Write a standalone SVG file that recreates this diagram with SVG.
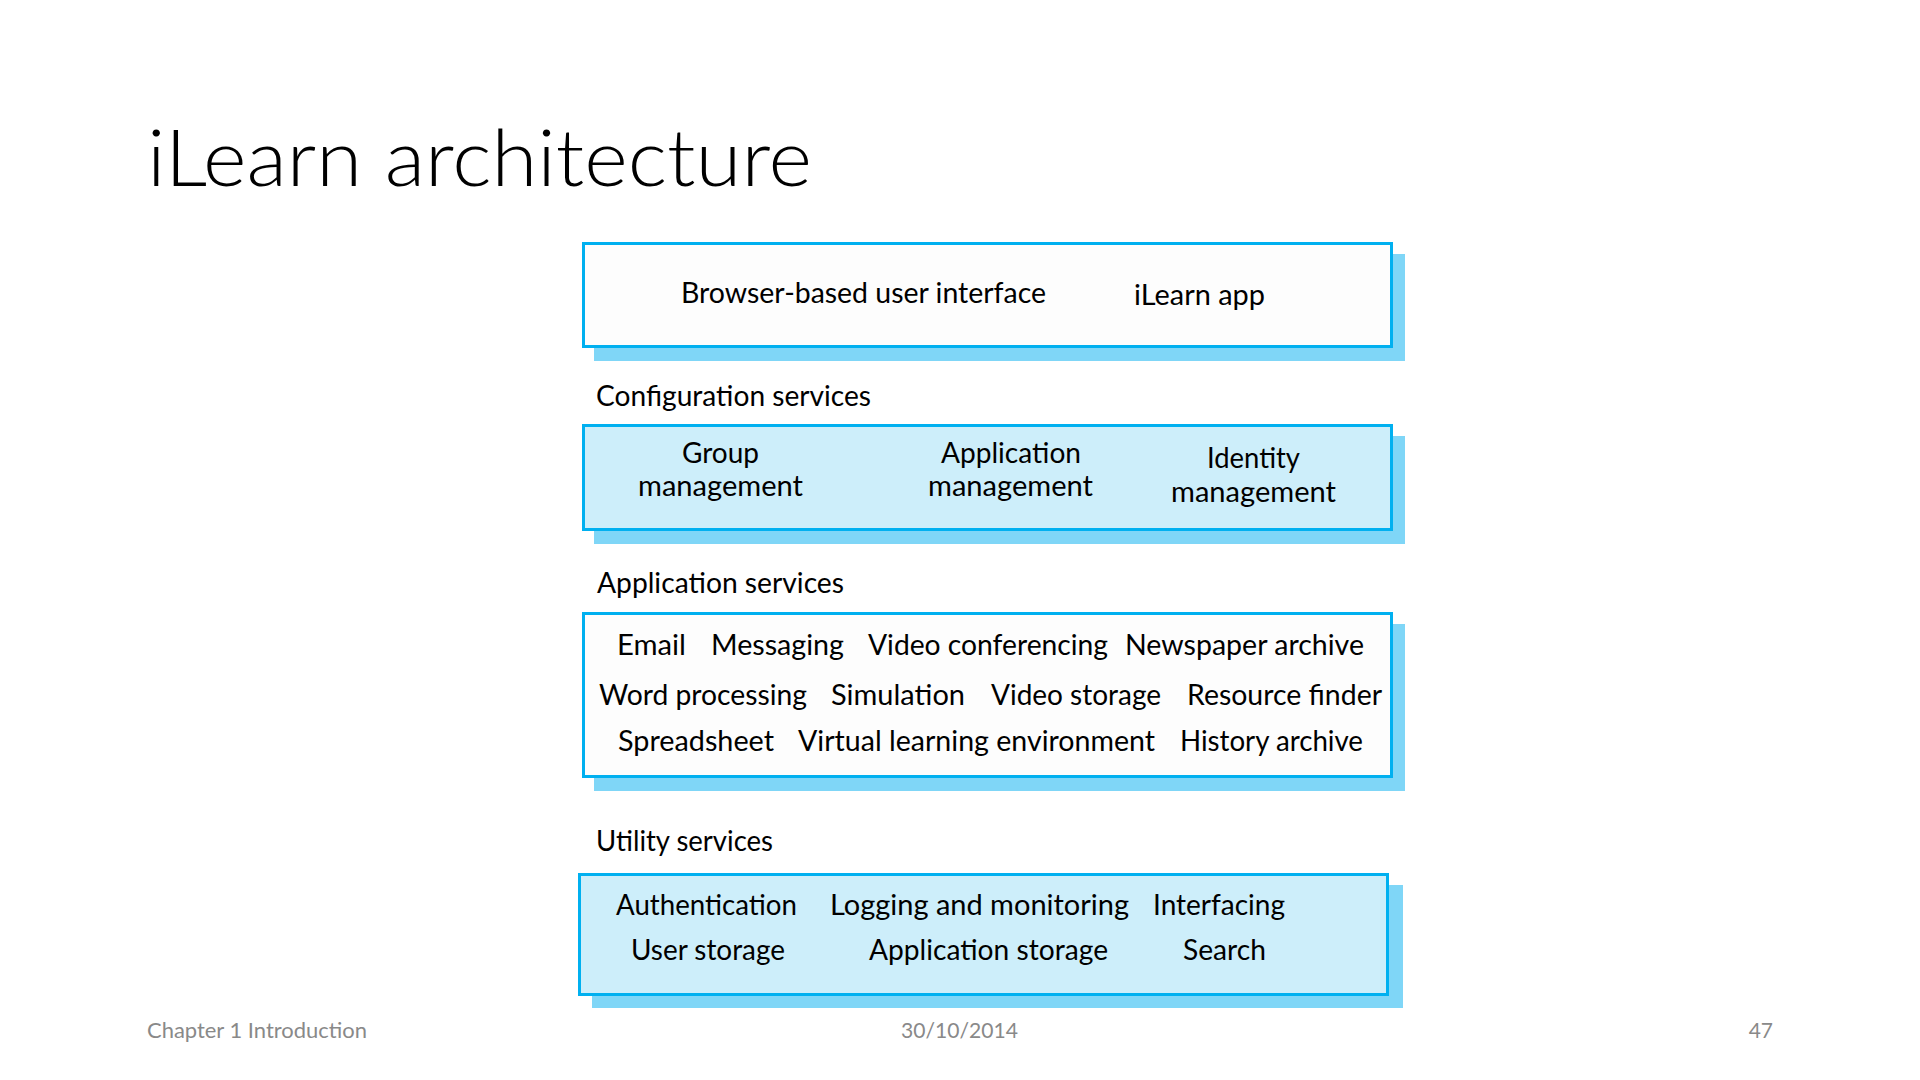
<svg xmlns="http://www.w3.org/2000/svg" width="1920" height="1080" viewBox="0 0 1920 1080">
<style>
.title{font-family:Lato,"Liberation Sans",sans-serif;font-weight:300;font-size:78px;fill:#000}
.t{font-family:Lato,"Liberation Sans",sans-serif;font-size:28px;fill:#000}
.foot{font-family:Lato,"Liberation Sans",sans-serif;font-size:21px;fill:#898989}
.shadow{fill:#7fd6f7}
.box{stroke:#00b0f0;stroke-width:3}
.white{fill:#fdfdfd}
.blue{fill:#cdeefa}
</style>
<rect width="1920" height="1080" fill="#ffffff"/>
<text class="title" x="147" y="186" textLength="665" lengthAdjust="spacingAndGlyphs">iLearn architecture</text>

<g id="ui-layer">
<rect class="shadow" x="594" y="254" width="811" height="107"/>
<rect class="box white" x="583.5" y="243.5" width="808" height="103"/>
<text class="t" x="681" y="303" textLength="365" lengthAdjust="spacingAndGlyphs">Browser-based user interface</text>
<text class="t" x="1134" y="305" textLength="131" lengthAdjust="spacingAndGlyphs">iLearn app</text>
</g>

<g id="config-services">
<text class="t" x="596" y="406" textLength="275" lengthAdjust="spacingAndGlyphs">Configuration services</text>
<rect class="shadow" x="594" y="436" width="811" height="108"/>
<rect class="box blue" x="583.5" y="425.5" width="808" height="104"/>
<text class="t" x="682" y="463" textLength="77" lengthAdjust="spacingAndGlyphs">Group</text>
<text class="t" x="638" y="496" textLength="165" lengthAdjust="spacingAndGlyphs">management</text>
<text class="t" x="941" y="463" textLength="140" lengthAdjust="spacingAndGlyphs">Application</text>
<text class="t" x="928" y="496" textLength="165" lengthAdjust="spacingAndGlyphs">management</text>
<text class="t" x="1207" y="468" textLength="93" lengthAdjust="spacingAndGlyphs">Identity</text>
<text class="t" x="1171" y="502" textLength="165" lengthAdjust="spacingAndGlyphs">management</text>
</g>

<g id="application-services">
<text class="t" x="597" y="593" textLength="247" lengthAdjust="spacingAndGlyphs">Application services</text>
<rect class="shadow" x="594" y="624" width="811" height="167"/>
<rect class="box white" x="583.5" y="613.5" width="808" height="163"/>
<text class="t" x="617" y="655" textLength="69" lengthAdjust="spacingAndGlyphs">Email</text>
<text class="t" x="711" y="655" textLength="133" lengthAdjust="spacingAndGlyphs">Messaging</text>
<text class="t" x="868" y="655" textLength="240" lengthAdjust="spacingAndGlyphs">Video conferencing</text>
<text class="t" x="1125" y="655" textLength="239" lengthAdjust="spacingAndGlyphs">Newspaper archive</text>
<text class="t" x="599" y="705" textLength="208" lengthAdjust="spacingAndGlyphs">Word processing</text>
<text class="t" x="831" y="705" textLength="134" lengthAdjust="spacingAndGlyphs">Simulation</text>
<text class="t" x="991" y="705" textLength="170" lengthAdjust="spacingAndGlyphs">Video storage</text>
<text class="t" x="1187" y="705" textLength="195" lengthAdjust="spacingAndGlyphs">Resource finder</text>
<text class="t" x="618" y="751" textLength="156" lengthAdjust="spacingAndGlyphs">Spreadsheet</text>
<text class="t" x="798" y="751" textLength="357" lengthAdjust="spacingAndGlyphs">Virtual learning environment</text>
<text class="t" x="1180" y="751" textLength="183" lengthAdjust="spacingAndGlyphs">History archive</text>
</g>

<g id="utility-services">
<text class="t" x="596" y="851" textLength="177" lengthAdjust="spacingAndGlyphs">Utility services</text>
<rect class="shadow" x="592" y="885" width="811" height="123"/>
<rect class="box blue" x="579.5" y="874.5" width="808" height="120"/>
<text class="t" x="616" y="915" textLength="181" lengthAdjust="spacingAndGlyphs">Authentication</text>
<text class="t" x="830" y="915" textLength="299" lengthAdjust="spacingAndGlyphs">Logging and monitoring</text>
<text class="t" x="1153" y="915" textLength="132" lengthAdjust="spacingAndGlyphs">Interfacing</text>
<text class="t" x="631" y="960" textLength="154" lengthAdjust="spacingAndGlyphs">User storage</text>
<text class="t" x="869" y="960" textLength="239" lengthAdjust="spacingAndGlyphs">Application storage</text>
<text class="t" x="1183" y="960" textLength="83" lengthAdjust="spacingAndGlyphs">Search</text>
</g>

<g id="connectors"></g>

<g id="footer">
<text class="foot" x="147" y="1038" textLength="220" lengthAdjust="spacingAndGlyphs">Chapter 1 Introduction</text>
<text class="foot" x="901" y="1038" textLength="117" lengthAdjust="spacingAndGlyphs">30/10/2014</text>
<text class="foot" x="1773" y="1038" text-anchor="end">47</text>
</g>
</svg>
